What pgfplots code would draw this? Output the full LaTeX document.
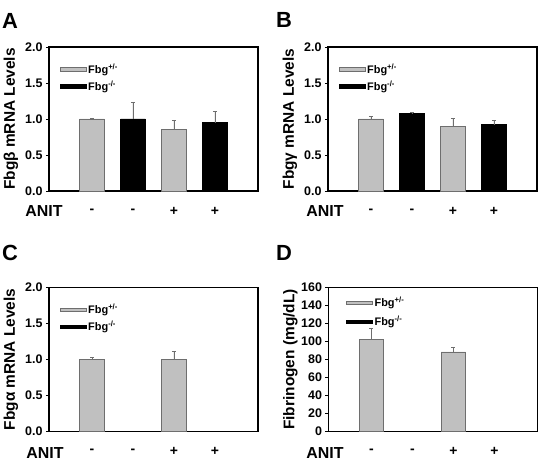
\documentclass[border=0pt]{standalone}
\usepackage{pgfplots}
\pgfplotsset{compat=1.18}
\usepackage{fontspec}
\setmainfont{Liberation Sans}
\definecolor{barGray}{RGB}{192,192,192}
\definecolor{barEdge}{RGB}{110,110,110}
\pgfplotsset{
  legend image code/.code={\draw[#1,line width=0.6bp] (0bp,-1.8bp) rectangle (26bp,1.8bp);},
  panel/.style={
    scale only axis, width=209bp, height=144bp,
    xmin=-1.05, xmax=4.05, ymin=0,
    xtick={0,1,2,3}, xticklabels={-,-,+,+},
    xtick style={draw=none},
    xticklabel style={font=\fontsize{14}{14}\selectfont\bfseries, anchor=center, yshift=-17bp},
    ytick pos=left, tick align=outside, major tick length=3bp,
    every tick/.style={black, line width=0.8bp},
    yticklabel style={font=\fontsize{12.5}{12.5}\selectfont\bfseries, /pgf/number format/assume math mode=true},
    axis line style={line width=1.1bp},
    every axis y label/.style={at={(axis description cs:-0.182,0.5)}, rotate=90, anchor=center,
      font=\fontsize{15.5}{15.5}\selectfont\bfseries},
    legend style={draw=none, fill=none, at={(axis description cs:0.045,0.905)}, anchor=north west,
      font=\fontsize{11}{11}\selectfont\bfseries, row sep=2bp, inner sep=1bp},
    legend cell align=left,
    clip=false,
  },
  mrna/.style={ymax=2, ytick={0,0.5,1,1.5,2},
    yticklabel style={/pgf/number format/.cd, fixed, fixed zerofill, precision=1}},
  gbar/.style={ybar, bar width=0.6, bar shift=0pt, fill=barGray, draw=barEdge, line width=0.6bp, forget plot,
    error bars/.cd, y dir=plus, y explicit,
    error bar style={barEdge, line width=0.8bp},
    error mark options={rotate=90, mark size=2bp, barEdge, line width=0.8bp}},
  kbar/.style={ybar, bar width=0.6, bar shift=0pt, fill=black, draw=black, line width=0.6bp, forget plot,
    error bars/.cd, y dir=plus, y explicit,
    error bar style={barEdge, line width=0.8bp},
    error mark options={rotate=90, mark size=2bp, barEdge, line width=0.8bp}},
}
\newcommand{\addleg}{%
  \addlegendimage{fill=barGray, draw=barEdge}
  \addlegendentry{Fbg\textsuperscript{+/-}}
  \addlegendimage{fill=black, draw=black}
  \addlegendentry{Fbg\textsuperscript{-/-}}}
\begin{document}
\begin{tikzpicture}[x=1bp,y=1bp]
\path (0,0) rectangle (538,465);
% Panel A
\begin{axis}[panel, mrna, at={(49bp,274bp)}, anchor=south west, ylabel={Fbgβ mRNA Levels}]
\addplot[gbar] coordinates {(0,1.00) +- (0,0.005) (2,0.85) +- (0,0.125)};
\addplot[kbar] coordinates {(1,1.00) +- (0,0.23) (3,0.95) +- (0,0.15)};
\addleg
\end{axis}
% Panel B
\begin{axis}[panel, mrna, at={(328bp,274bp)}, anchor=south west, ylabel={Fbgγ mRNA Levels}]
\addplot[gbar] coordinates {(0,1.00) +- (0,0.04) (2,0.895) +- (0,0.11)};
\addplot[kbar] coordinates {(1,1.075) +- (0,0.02) (3,0.92) +- (0,0.055)};
\addleg
\end{axis}
% Panel C
\begin{axis}[panel, mrna, at={(49bp,33.5bp)}, anchor=south west, ylabel={Fbgα mRNA Levels}]
\addplot[gbar] coordinates {(0,1.00) +- (0,0.03) (2,1.00) +- (0,0.11)};
\addleg
\end{axis}
% Panel D
\begin{axis}[panel, at={(328.5bp,33.5bp)}, anchor=south west, ymax=160, ytick={0,20,...,160},
  ylabel={Fibrinogen (mg/dL)},
  legend style={at={(axis description cs:0.078,0.955)}, row sep=4bp}]
\addplot[gbar] coordinates {(0,102) +- (0,12) (2,88.5) +- (0,5)};
\addleg
\end{axis}
% Panel letters
\node[anchor=north west, inner sep=0, font=\fontsize{22}{22}\selectfont\bfseries] at (2,452) {A};
\node[anchor=north west, inner sep=0, font=\fontsize{22}{22}\selectfont\bfseries] at (276,453) {B};
\node[anchor=north west, inner sep=0, font=\fontsize{22}{22}\selectfont\bfseries] at (2,220) {C};
\node[anchor=north west, inner sep=0, font=\fontsize{22}{22}\selectfont\bfseries] at (276,220) {D};
% ANIT labels
\node[font=\fontsize{16}{16}\selectfont\bfseries] at (44,254) {ANIT};
\node[font=\fontsize{16}{16}\selectfont\bfseries] at (325,254) {ANIT};
\node[font=\fontsize{16}{16}\selectfont\bfseries] at (45,12) {ANIT};
\node[font=\fontsize{16}{16}\selectfont\bfseries] at (325,12) {ANIT};
\end{tikzpicture}
\end{document}
